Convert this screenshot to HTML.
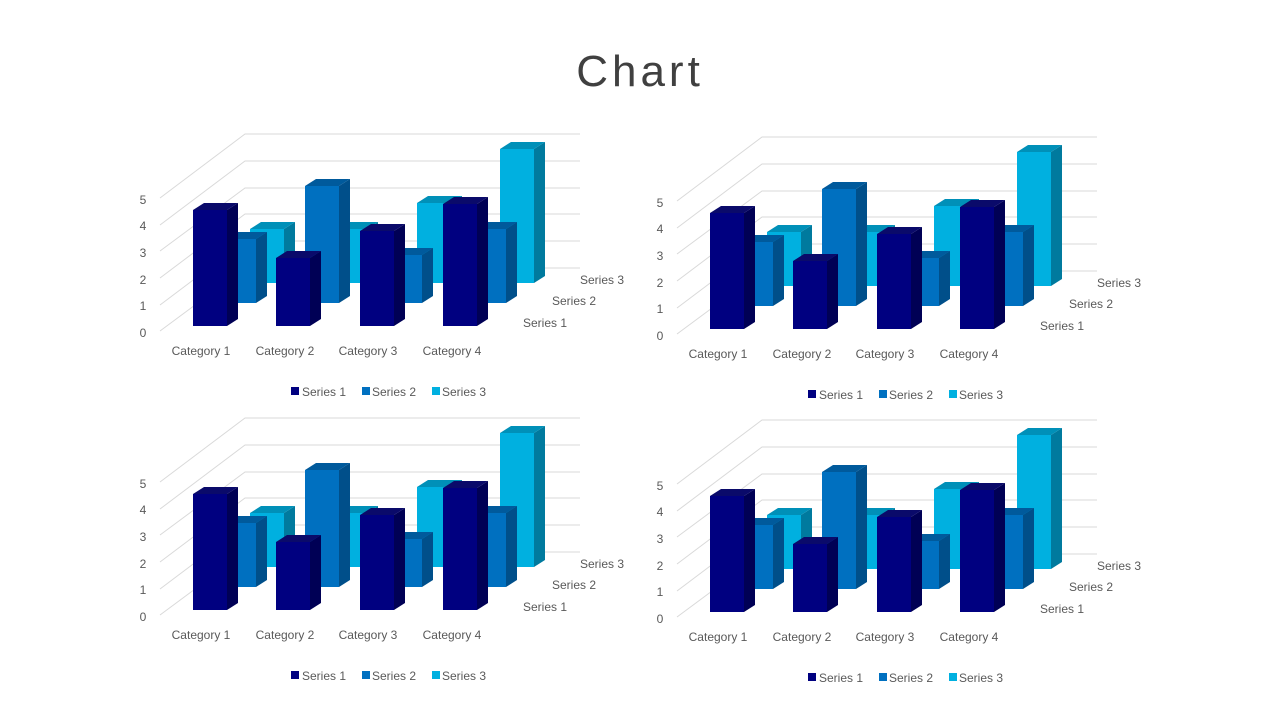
<!DOCTYPE html>
<html><head><meta charset="utf-8"><style>
html,body{margin:0;padding:0;background:#fff;}
svg{display:block;}
text{font-family:"Liberation Sans",sans-serif;fill:#595959;}
</style></head><body>
<svg width="1280" height="720" viewBox="0 0 1280 720" xmlns="http://www.w3.org/2000/svg">
<text x="640" y="86" text-anchor="middle" style="font-size:44px;letter-spacing:4px;fill:#404040">Chart</text>
<defs>
<g id="bars">
<g stroke="#d9d9d9" stroke-width="1" fill="none">
<polyline points="160,331 245,268 580,268"/>
<polyline points="160,305 245,241 580,241"/>
<polyline points="160,278 245,214 580,214"/>
<polyline points="160,251 245,188 580,188"/>
<polyline points="160,225 245,161 580,161"/>
<polyline points="160,198 245,134 580,134"/>
</g>
<!-- Series 3 -->
<g>
<rect x="250" y="229" width="34" height="54" fill="#00b0e0"/><polygon points="284,229 295,222 295,276 284,283" fill="#007a9e"/><polygon points="250,229 261,222 295,222 284,229" fill="#0090b8"/>
<rect x="333" y="229" width="34" height="54" fill="#00b0e0"/><polygon points="367,229 378,222 378,276 367,283" fill="#007a9e"/><polygon points="333,229 344,222 378,222 367,229" fill="#0090b8"/>
<rect x="417" y="203" width="34" height="80" fill="#00b0e0"/><polygon points="451,203 462,196 462,276 451,283" fill="#007a9e"/><polygon points="417,203 428,196 462,196 451,203" fill="#0090b8"/>
<rect x="500" y="149" width="34" height="134" fill="#00b0e0"/><polygon points="534,149 545,142 545,276 534,283" fill="#007a9e"/><polygon points="500,149 511,142 545,142 534,149" fill="#0090b8"/>
</g>
<!-- Series 2 -->
<g>
<rect x="222" y="239" width="34" height="64" fill="#0070c0"/><polygon points="256,239 267,232 267,296 256,303" fill="#004f8a"/><polygon points="222,239 233,232 267,232 256,239" fill="#005a9c"/>
<rect x="305" y="186" width="34" height="117" fill="#0070c0"/><polygon points="339,186 350,179 350,296 339,303" fill="#004f8a"/><polygon points="305,186 316,179 350,179 339,186" fill="#005a9c"/>
<rect x="388" y="255" width="34" height="48" fill="#0070c0"/><polygon points="422,255 433,248 433,296 422,303" fill="#004f8a"/><polygon points="388,255 399,248 433,248 422,255" fill="#005a9c"/>
<rect x="472" y="229" width="34" height="74" fill="#0070c0"/><polygon points="506,229 517,222 517,296 506,303" fill="#004f8a"/><polygon points="472,229 483,222 517,222 506,229" fill="#005a9c"/>
</g>
<!-- Series 1 -->
<g>
<rect x="193" y="210" width="34" height="116" fill="#000080"/><polygon points="227,210 238,203 238,319 227,326" fill="#000055"/><polygon points="193,210 204,203 238,203 227,210" fill="#0a0a6a"/>
<rect x="276" y="258" width="34" height="68" fill="#000080"/><polygon points="310,258 321,251 321,319 310,326" fill="#000055"/><polygon points="276,258 287,251 321,251 310,258" fill="#0a0a6a"/>
<rect x="360" y="231" width="34" height="95" fill="#000080"/><polygon points="394,231 405,224 405,319 394,326" fill="#000055"/><polygon points="360,231 371,224 405,224 394,231" fill="#0a0a6a"/>
<rect x="443" y="204" width="34" height="122" fill="#000080"/><polygon points="477,204 488,197 488,319 477,326" fill="#000055"/><polygon points="443,204 454,197 488,197 477,204" fill="#0a0a6a"/>
</g>
<rect x="291" y="387" width="8" height="8" fill="#000080"/>
<rect x="362" y="387" width="8" height="8" fill="#0070c0"/>
<rect x="432" y="387" width="8" height="8" fill="#00b0e0"/>
</g>
</defs>

<g id="c1">
<use href="#bars"/>
<g style="font-size:12px">
<text x="143" y="337" text-anchor="middle">0</text><text x="143" y="310" text-anchor="middle">1</text><text x="143" y="284" text-anchor="middle">2</text><text x="143" y="257" text-anchor="middle">3</text><text x="143" y="230" text-anchor="middle">4</text><text x="143" y="204" text-anchor="middle">5</text>
<text x="201" y="355" text-anchor="middle">Category 1</text><text x="285" y="355" text-anchor="middle">Category 2</text><text x="368" y="355" text-anchor="middle">Category 3</text><text x="452" y="355" text-anchor="middle">Category 4</text>
<text x="523" y="327">Series 1</text><text x="552" y="305">Series 2</text><text x="580" y="284">Series 3</text>
<text x="302" y="396">Series 1</text><text x="372" y="396">Series 2</text><text x="442" y="396">Series 3</text>
</g></g>

<g transform="translate(517,3)">
<use href="#bars"/>
<g style="font-size:12px">
<text x="143" y="337" text-anchor="middle">0</text><text x="143" y="310" text-anchor="middle">1</text><text x="143" y="284" text-anchor="middle">2</text><text x="143" y="257" text-anchor="middle">3</text><text x="143" y="230" text-anchor="middle">4</text><text x="143" y="204" text-anchor="middle">5</text>
<text x="201" y="355" text-anchor="middle">Category 1</text><text x="285" y="355" text-anchor="middle">Category 2</text><text x="368" y="355" text-anchor="middle">Category 3</text><text x="452" y="355" text-anchor="middle">Category 4</text>
<text x="523" y="327">Series 1</text><text x="552" y="305">Series 2</text><text x="580" y="284">Series 3</text>
<text x="302" y="396">Series 1</text><text x="372" y="396">Series 2</text><text x="442" y="396">Series 3</text>
</g></g>

<g transform="translate(0,284)">
<use href="#bars"/>
<g style="font-size:12px">
<text x="143" y="337" text-anchor="middle">0</text><text x="143" y="310" text-anchor="middle">1</text><text x="143" y="284" text-anchor="middle">2</text><text x="143" y="257" text-anchor="middle">3</text><text x="143" y="230" text-anchor="middle">4</text><text x="143" y="204" text-anchor="middle">5</text>
<text x="201" y="355" text-anchor="middle">Category 1</text><text x="285" y="355" text-anchor="middle">Category 2</text><text x="368" y="355" text-anchor="middle">Category 3</text><text x="452" y="355" text-anchor="middle">Category 4</text>
<text x="523" y="327">Series 1</text><text x="552" y="305">Series 2</text><text x="580" y="284">Series 3</text>
<text x="302" y="396">Series 1</text><text x="372" y="396">Series 2</text><text x="442" y="396">Series 3</text>
</g></g>

<g transform="translate(517,286)">
<use href="#bars"/>
<g style="font-size:12px">
<text x="143" y="337" text-anchor="middle">0</text><text x="143" y="310" text-anchor="middle">1</text><text x="143" y="284" text-anchor="middle">2</text><text x="143" y="257" text-anchor="middle">3</text><text x="143" y="230" text-anchor="middle">4</text><text x="143" y="204" text-anchor="middle">5</text>
<text x="201" y="355" text-anchor="middle">Category 1</text><text x="285" y="355" text-anchor="middle">Category 2</text><text x="368" y="355" text-anchor="middle">Category 3</text><text x="452" y="355" text-anchor="middle">Category 4</text>
<text x="523" y="327">Series 1</text><text x="552" y="305">Series 2</text><text x="580" y="284">Series 3</text>
<text x="302" y="396">Series 1</text><text x="372" y="396">Series 2</text><text x="442" y="396">Series 3</text>
</g></g>
</svg>
</body></html>
